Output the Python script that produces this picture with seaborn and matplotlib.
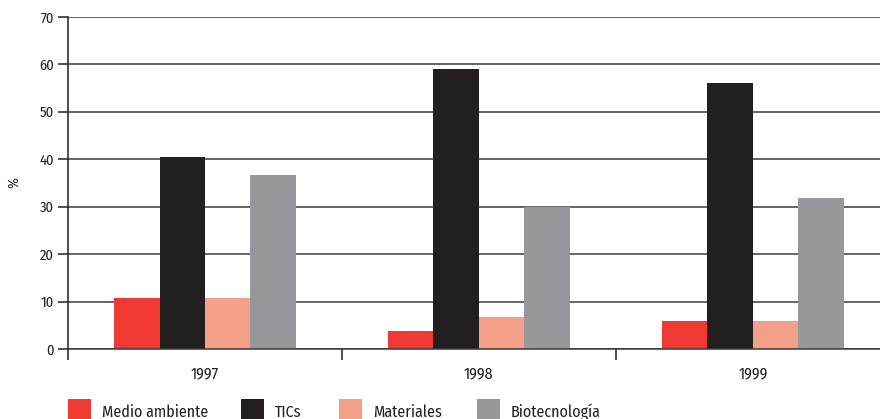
import matplotlib
matplotlib.use("Agg")
import matplotlib.pyplot as plt
import seaborn as sns
import pandas as pd
from matplotlib.ticker import FixedLocator

years = ["1997", "1998", "1999"]
categories = ["Medio ambiente", "TICs", "Materiales", "Biotecnología"]
medio_ambiente = [10.8, 3.8, 5.9]
tics = [40.5, 59.1, 56.1]
materiales = [10.8, 6.8, 5.9]
biotecnologia = [36.7, 30.0, 31.9]
y_ticks = [0, 10, 20, 30, 40, 50, 60, 70]
colors = ["#EE3A32", "#231F20", "#F4A088", "#97989C"]

series = [medio_ambiente, tics, materiales, biotecnologia]
rows = []
for cat, vals in zip(categories, series):
    for yr, v in zip(years, vals):
        rows.append({"year": yr, "cat": cat, "value": v})
df = pd.DataFrame(rows)

sns.set_style("white")
plt.rcParams["font.family"] = ["Fira Sans Condensed", "Asap Condensed", "DejaVu Sans"]

fig = plt.figure(figsize=(8.8, 4.19), dpi=100)
ax = fig.add_axes([68/880, 70/419, 1 - 68/880, (349-17)/419])

sns.barplot(data=df, x="year", y="value", hue="cat", hue_order=categories,
            order=years, palette=colors, saturation=1, width=0.664, ax=ax,
            edgecolor="none", linewidth=0)

handles, labels = ax.get_legend_handles_labels()
ax.get_legend().remove()

ax.set_ylim(0, 70)
ax.set_xlim(-0.5, 2.464)
ax.set_yticks(y_ticks)
ax.yaxis.grid(True, color="#3a3a3a", linewidth=1.1)
ax.set_axisbelow(True)
ax.set_xlabel("")
ax.set_ylabel("%", fontsize=10.5, color="#231F20")
ax.yaxis.set_label_coords(-0.058, 0.5)

for s in ["top", "right"]:
    ax.spines[s].set_visible(False)
ax.spines["left"].set_color("#231F20")
ax.spines["left"].set_linewidth(1.1)
ax.spines["bottom"].set_color("#3a3a3a")
ax.spines["bottom"].set_linewidth(1.1)

ax.tick_params(axis="y", direction="out", length=7, width=1.1, color="#231F20",
               labelsize=10.5, labelcolor="#231F20", pad=3, left=True)
ax.tick_params(axis="x", which="major", length=0, labelsize=11.5,
               labelcolor="#231F20", pad=12)
ax.xaxis.set_minor_locator(FixedLocator([-0.5, 0.5, 1.5]))
ax.tick_params(axis="x", which="minor", direction="out", length=8, width=1.1,
               color="#231F20", bottom=True)

legend_x = [68, 241, 339, 477]
fs = 11.5
fs_px = fs * 100 / 72
for h, l, lx in zip(handles, labels, legend_x):
    fig.legend([h], [l], loc="upper left", bbox_to_anchor=(lx/880, 1 - 399/419),
               frameon=False, fontsize=fs, handlelength=23/fs_px, handleheight=2.2,
               handletextpad=11/fs_px, borderaxespad=0, borderpad=0,
               labelcolor="#231F20")

fig.savefig("out.png", dpi=100)
